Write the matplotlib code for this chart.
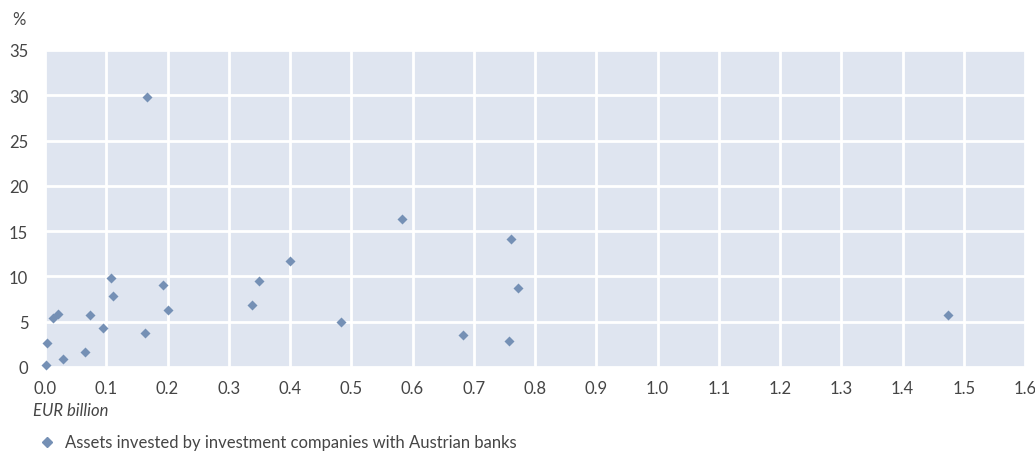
import matplotlib.pyplot as plt

# Assets invested by investment companies with Austrian banks
assets_eur_bn = [0.167, 0.583, 0.761, 0.400, 0.108, 0.349, 0.193, 0.772, 0.111,
                 0.338, 0.201, 0.0735, 0.013, 0.021, 1.475, 0.483, 0.095, 0.164,
                 0.682, 0.757, 0.004, 0.066, 0.029, 0.002]
share_pct = [29.8, 16.3, 14.1, 11.7, 9.8, 9.5, 9.0, 8.7, 7.8,
             6.9, 6.3, 5.7, 5.4, 5.8, 5.7, 5.0, 4.3, 3.7,
             3.5, 2.9, 2.6, 1.7, 0.9, 0.2]

x_ticks = [i / 10 for i in range(17)]
y_ticks = [0, 5, 10, 15, 20, 25, 30, 35]
legend_label = "Assets invested by investment companies with Austrian banks"

text_color = "#454545"
fsize = 12
plt.rcParams["font.family"] = ["Lato", "DejaVu Sans"]

fig = plt.figure(figsize=(10.35, 4.52), dpi=100)
ax = fig.add_axes([45 / 1035, 1 - 368 / 452, 980 / 1035, 317 / 452])
ax.set_facecolor("#dfe5f0")
ax.scatter(assets_eur_bn, share_pct, marker="D", s=26, color="#7590b5",
           linewidths=0, zorder=3, clip_on=False)

ax.set_xlim(0, 1.6)
ax.set_ylim(0, 35)
ax.set_xticks(x_ticks)
ax.set_xticklabels([f"{t:.1f}" for t in x_ticks])
ax.set_yticks(y_ticks)
ax.grid(True, color="white", linewidth=2)
ax.set_axisbelow(True)
for spine in ax.spines.values():
    spine.set_visible(False)
ax.tick_params(length=0, labelsize=fsize, colors=text_color)
ax.tick_params(axis="y", pad=12)
ax.tick_params(axis="x", pad=9)

fig.text(12 / 1035, 1 - 20 / 452, "%", fontsize=fsize, color=text_color,
         va="center", ha="left")
fig.text(33 / 1035, 1 - 411 / 452, "EUR billion", fontsize=fsize,
         style="italic", color=text_color, va="center", ha="left")

fig.lines.append(plt.Line2D([47 / 1035], [1 - 443 / 452], marker="D",
                            markersize=5, color="#7590b5", linestyle="none",
                            transform=fig.transFigure, figure=fig))
fig.text(65 / 1035, 1 - 443 / 452, legend_label, fontsize=fsize,
         color=text_color, va="center", ha="left")

fig.savefig("out.png", dpi=100)
